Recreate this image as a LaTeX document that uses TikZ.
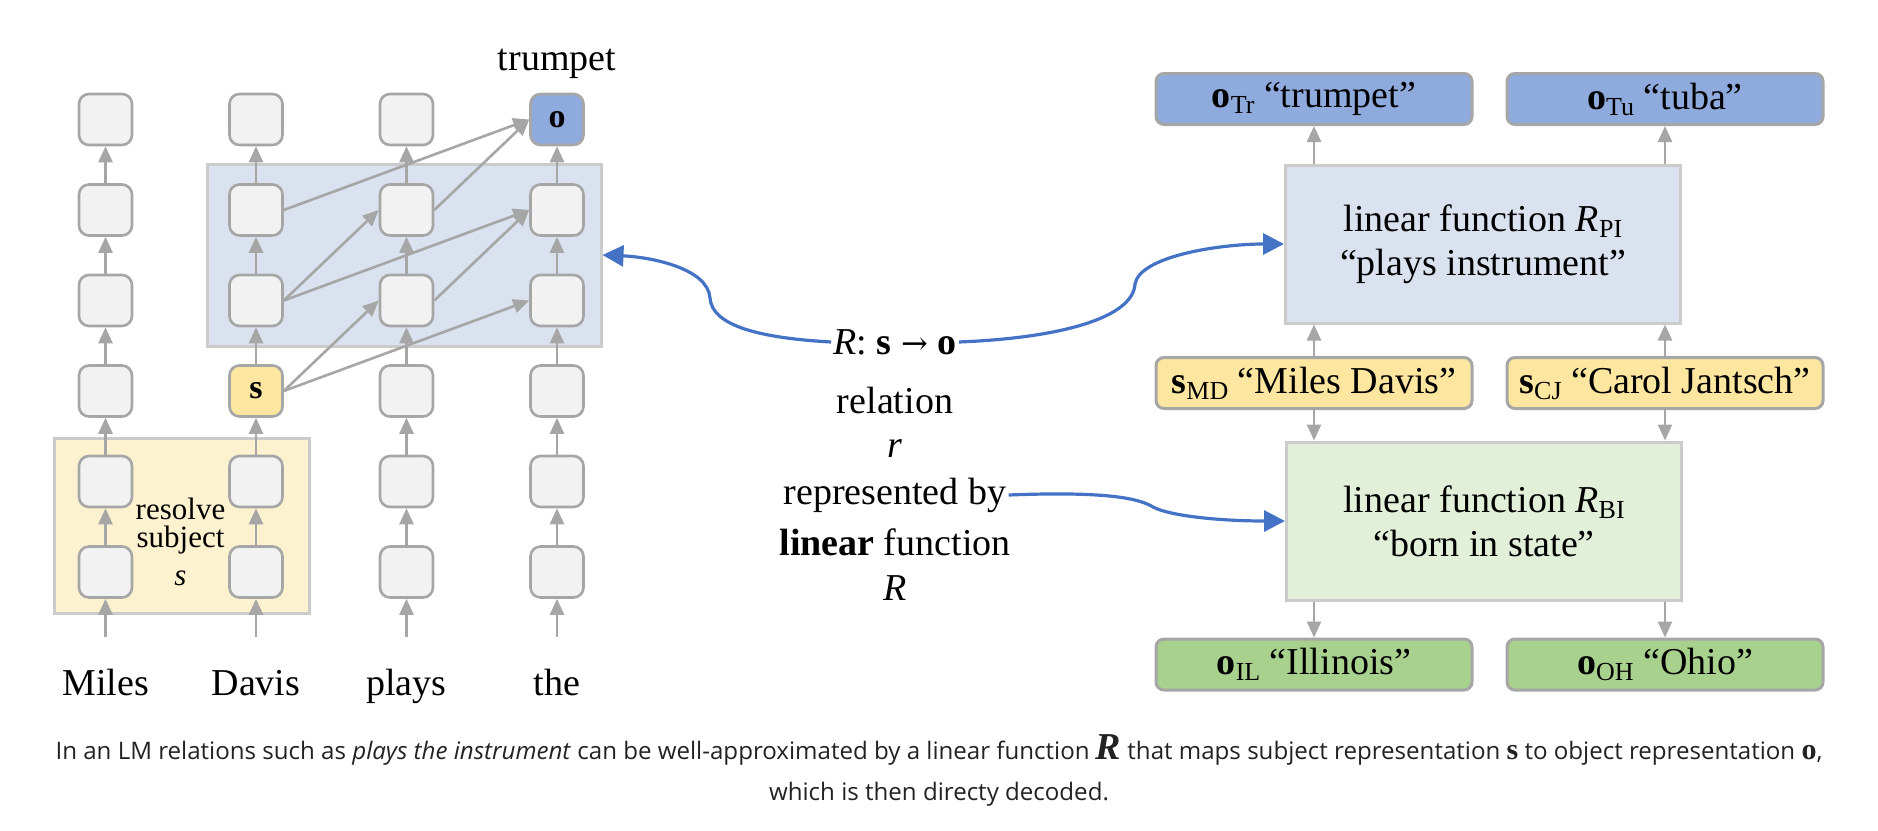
\documentclass[tikz,border=0pt]{standalone}
\usepackage{fontspec}
\setmainfont{Liberation Serif}
\newfontfamily\capfont{Open Sans}
\newfontfamily\arrowfont{DejaVu Serif}
\usetikzlibrary{arrows.meta}

\definecolor{boxgray}{HTML}{F2F2F2}
\definecolor{edgegray}{HTML}{A6A6A6}
\definecolor{ablue}{HTML}{8FAADC}
\definecolor{ayellow}{HTML}{FCE6A0}
\definecolor{agreen}{HTML}{A9D18E}
\definecolor{hlblue}{HTML}{DAE1EF}
\definecolor{hlyellow}{HTML}{FDF2D0}
\definecolor{hlgreen}{HTML}{E2F0D9}
\definecolor{curveblue}{HTML}{4472C4}
\definecolor{rectedge}{HTML}{CBCBCB}
\definecolor{captext}{HTML}{222222}

\newcommand{\lowsub}[1]{\raisebox{-0.35ex}{\fontsize{13}{13}\selectfont #1}}

\tikzset{
  cell/.style={draw=edgegray, line width=1.3pt, fill=boxgray, rounded corners=5pt,
    minimum width=26.5pt, minimum height=25.5pt, inner sep=0pt, font=\fontsize{17}{19}\selectfont\bfseries},
  garrow/.style={draw=edgegray, line width=1.3pt, -{Triangle[length=8pt,width=7pt]}},
  barrow/.style={draw=curveblue, line width=1.6pt, -{Triangle[length=10.5pt,width=10.5pt]}},
  hlrect/.style={draw=rectedge, line width=1.5pt, inner sep=0pt},
  bigtext/.style={font=\fontsize{19}{22}\selectfont, inner sep=1pt},
  bigbox/.style={draw=rectedge, line width=1.5pt, minimum width=197.5pt, minimum height=79pt,
    align=center, font=\fontsize{19}{22}\selectfont},
  tagbox/.style={draw=edgegray, line width=1.5pt, rounded corners=4pt, minimum width=158pt,
    minimum height=25.5pt, inner sep=0pt, font=\fontsize{19}{22}\selectfont},
}

\begin{document}
\begin{tikzpicture}[x=0.5pt, y=-0.5pt]
\useasboundingbox (0,0) rectangle (1878,830);

% highlight rectangles
\node[hlrect, fill=hlblue, minimum width=197pt, minimum height=91pt] (hlb) at (404,255) {};
\node[hlrect, fill=hlyellow, minimum width=127.5pt, minimum height=87.5pt] (hly) at (181.5,525.5) {};
\node[font=\fontsize{15.5}{14}\selectfont, align=center, inner sep=0pt] (resolve) at (180.5,542)
  {resolve\\subject\\[5pt]\textit{s}};

% grid of cells
\foreach \ci/\x in {1/105.5,2/256,3/406.5,4/557}{
  \foreach \ri/\y in {1/119.5,2/210,3/300.5,4/391,5/481.5,6/572}{
    \ifnum\ci\ri=24
      \node[cell, fill=ayellow] (c\ci r\ri) at (\x,\y) {s};
    \else\ifnum\ci\ri=41
      \node[cell, fill=ablue] (c\ci r\ri) at (\x,\y) {o};
    \else
      \node[cell] (c\ci r\ri) at (\x,\y) {};
    \fi\fi
  }
  \coordinate (b\ci) at (\x,637);
  \draw[garrow] (b\ci) -- (c\ci r6);
}
\foreach \ci in {1,2,3,4}{
  \foreach \ri [evaluate=\ri as \rn using int(\ri+1)] in {1,2,3,4,5}{
    \draw[garrow] (c\ci r\rn) -- (c\ci r\ri);
  }
}

% attention arrows
\draw[garrow] (c2r4.east) -- (c3r3.west);
\draw[garrow] (c2r4.east) -- (c4r3.west);
\draw[garrow] (c2r3.east) -- (c3r2.west);
\draw[garrow] (c2r3.east) -- (c4r2.west);
\draw[garrow] (c3r3.east) -- (c4r2.west);
\draw[garrow] (c2r2.east) -- (c4r1.west);
\draw[garrow] (c3r2.east) -- (c4r1.west);

% words
\node[bigtext, anchor=base] (w1) at (105.5,695) {Miles};
\node[bigtext, anchor=base] (w2) at (256,695) {Davis};
\node[bigtext, anchor=base] (w3) at (406.5,695) {plays};
\node[bigtext, anchor=base] (w4) at (557,695) {the};
\node[bigtext, anchor=base] (trumpet) at (557,70) {trumpet};

% middle texts
\node[bigtext] (rso) at (895,342) {\textit{R}: \textbf{s} {\arrowfont\fontsize{16}{16}\selectfont →} \textbf{o}};
\node[bigtext] (relation) at (895,400) {relation};
\node[bigtext] (rr) at (895,449) {\textit{r}};
\node[bigtext] (repby) at (895,495) {represented by};
\node[bigtext] (linfn) at (895,542) {\textbf{linear} function};
\node[bigtext] (RR) at (895,588) {\textit{R}};

% right side
\node[bigbox, fill=hlblue] (rpi) at (1483,244)
  {linear function \textit{R}\lowsub{PI}\\“plays instrument”};
\node[bigbox, fill=hlgreen] (rbi) at (1484,521)
  {linear function \textit{R}\lowsub{BI}\\“born in state”};

\node[tagbox, fill=ablue] (oTr) at (1314,99) {\textbf{o}\lowsub{Tr} “trumpet”};
\node[tagbox, fill=ablue] (oTu) at (1665,99) {\textbf{o}\lowsub{Tu} “tuba”};
\node[tagbox, fill=ayellow] (sMD) at (1314,383) {\textbf{s}\lowsub{MD} “Miles Davis”};
\node[tagbox, fill=ayellow] (sCJ) at (1665,383) {\textbf{s}\lowsub{CJ} “Carol Jantsch”};
\node[tagbox, fill=agreen] (oIL) at (1314,664.5) {\textbf{o}\lowsub{IL} “Illinois”};
\node[tagbox, fill=agreen] (oOH) at (1665,664.5) {\textbf{o}\lowsub{OH} “Ohio”};

\draw[garrow] (oTr.south |- rpi.north) -- (oTr.south);
\draw[garrow] (oTu.south |- rpi.north) -- (oTu.south);
\draw[garrow] (sMD.north) -- (sMD.north |- rpi.south);
\draw[garrow] (sCJ.north) -- (sCJ.north |- rpi.south);
\draw[garrow] (sMD.south) -- (sMD.south |- rbi.north);
\draw[garrow] (sCJ.south) -- (sCJ.south |- rbi.north);
\draw[garrow] (oIL.north |- rbi.south) -- (oIL.north);
\draw[garrow] (oOH.north |- rbi.south) -- (oOH.north);

% blue curves
\draw[barrow] (rso.west) .. controls (760,338) and (712,326) .. (710,298)
  .. controls (708,268) and (650,257) .. (hlb.east);
\draw[barrow] (rso.east) .. controls (1060,338) and (1133,318) .. (1135,284)
  .. controls (1140,256) and (1220,244) .. (rpi.west);
\draw[barrow] (repby.east) .. controls (1110,491) and (1140,499) .. (1153,507)
  .. controls (1170,516) and (1220,521) .. (rbi.west);

% caption
\node[font=\capfont\fontsize{12.05}{20.5}\selectfont, text=captext, align=center] (caption) at (939,770)
  {In an LM relations such as \textit{plays the instrument} can be well-approximated by a linear function
   {\rmfamily\bfseries\itshape\fontsize{19}{16}\selectfont R} that maps subject representation
   {\rmfamily\bfseries\fontsize{15}{13}\selectfont s} to object representation
   {\rmfamily\bfseries\fontsize{15}{13}\selectfont o},\\which is then directy decoded.};
\end{tikzpicture}
\end{document}
